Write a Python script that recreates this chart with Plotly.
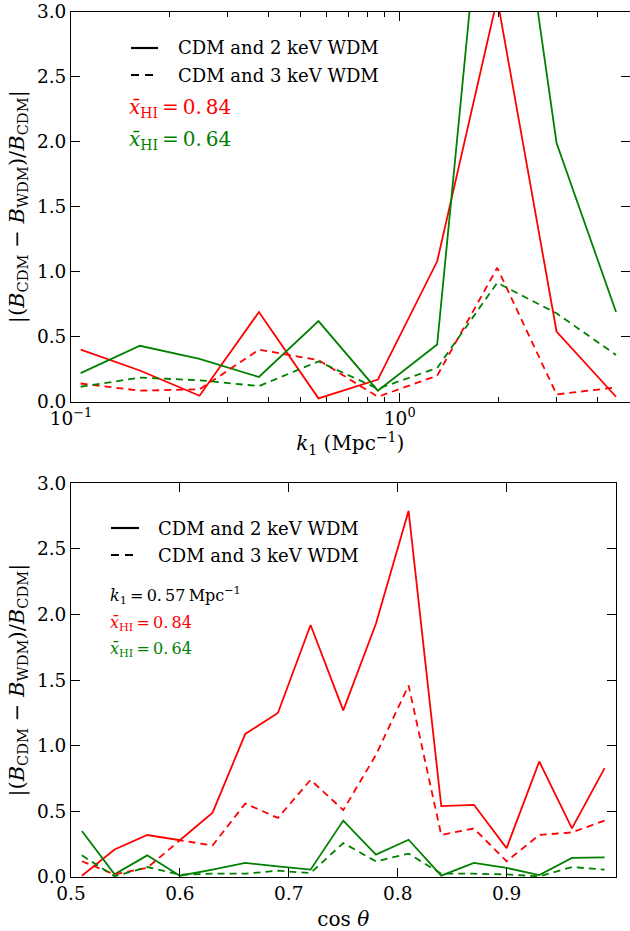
import plotly.graph_objects as go

W, H = 630, 931

# ---- top panel: bispectrum difference vs k1 ----
k1 = [0.107, 0.162, 0.246, 0.373, 0.566, 0.858, 1.30, 1.98, 3.00, 4.55]
top_red_2kev = [0.40, 0.24, 0.046, 0.69, 0.026, 0.17, 1.08, 3.10, 0.54, 0.038]
top_green_2kev = [0.22, 0.43, 0.33, 0.19, 0.62, 0.085, 0.44, 5.2, 1.99, 0.69]
top_red_3kev = [0.14, 0.085, 0.095, 0.40, 0.32, 0.038, 0.20, 1.03, 0.056, 0.11]
top_green_3kev = [0.115, 0.185, 0.165, 0.12, 0.31, 0.10, 0.26, 0.915, 0.68, 0.36]

# ---- bottom panel: bispectrum difference vs cos(theta) at k1 = 0.57 ----
cos_theta = [0.51, 0.54, 0.57, 0.60, 0.63, 0.66, 0.69, 0.72, 0.75,
             0.78, 0.81, 0.84, 0.87, 0.90, 0.93, 0.96, 0.99]
bot_red_2kev = [0.01, 0.21, 0.32, 0.28, 0.49, 1.09, 1.25, 1.92, 1.27,
                1.93, 2.79, 0.54, 0.55, 0.22, 0.88, 0.37, 0.83]
bot_red_3kev = [0.12, 0.02, 0.07, 0.28, 0.24, 0.56, 0.45, 0.74, 0.51,
                0.93, 1.46, 0.32, 0.37, 0.12, 0.32, 0.34, 0.43]
bot_green_2kev = [0.35, 0.02, 0.165, 0.01, 0.056, 0.107, 0.081, 0.056, 0.43,
                  0.17, 0.284, 0.01, 0.107, 0.069, 0.015, 0.145, 0.15]
bot_green_3kev = [0.165, 0.005, 0.076, 0.018, 0.025, 0.025, 0.048, 0.03, 0.259,
                  0.119, 0.178, 0.025, 0.025, 0.02, 0.005, 0.076, 0.056]

RED = "#ff0000"
GREEN = "#008000"
SERIF = "DejaVu Serif, serif"
LW = 1.8
DASH = "7px,5px"


def px_x(x):
    return x / W


def px_y(y):
    return 1 - y / H


fig = go.Figure()

series = [
    ("x", "y", k1, top_red_2kev, RED, "solid"),
    ("x", "y", k1, top_green_2kev, GREEN, "solid"),
    ("x", "y", k1, top_red_3kev, RED, DASH),
    ("x", "y", k1, top_green_3kev, GREEN, DASH),
    ("x2", "y2", cos_theta, bot_red_2kev, RED, "solid"),
    ("x2", "y2", cos_theta, bot_green_2kev, GREEN, "solid"),
    ("x2", "y2", cos_theta, bot_red_3kev, RED, DASH),
    ("x2", "y2", cos_theta, bot_green_3kev, GREEN, DASH),
]
for xa, ya, xs, ys, col, dash in series:
    fig.add_trace(go.Scatter(x=xs, y=ys, xaxis=xa, yaxis=ya, mode="lines",
                             line=dict(color=col, width=LW, dash=dash),
                             showlegend=False, hoverinfo="skip"))

tickfont = dict(family=SERIF, size=18.5, color="black")
titlefont = dict(family=SERIF, size=20, color="black")
ytitlefont = dict(family=SERIF, size=21, color="black")
common = dict(showline=True, linecolor="black", linewidth=1, mirror="ticks",
              ticks="inside", ticklen=9, tickwidth=1, tickcolor="black",
              showgrid=False, zeroline=False, tickfont=tickfont,
              automargin=False)

ylabel = ("|(<i>B</i><sub>CDM</sub> − <i>B</i><sub>WDM</sub>)/"
          "<i>B</i><sub>CDM</sub>|")
yticks = [0, 0.5, 1, 1.5, 2, 2.5, 3]
yticktext = ["0.0", "0.5", "1.0", "1.5", "2.0", "2.5", "3.0"]

fig.update_layout(
    width=W, height=H,
    margin=dict(l=0, r=0, t=0, b=0),
    paper_bgcolor="white", plot_bgcolor="white",
    xaxis=dict(type="log", range=[-1, 0.699],
               domain=[px_x(71), px_x(629.5)], anchor="y",
               tickvals=[0.1, 1], ticktext=["10<sup>−1</sup>", "10<sup>0</sup>"],
               minor=dict(ticks="inside", ticklen=5, tickcolor="black",
                          tickvals=[0.2, 0.3, 0.4, 0.5, 0.6, 0.7, 0.8, 0.9,
                                    2, 3, 4]),
               title=dict(text="<i>k</i><sub>1</sub> (Mpc<sup>−1</sup>)",
                          font=titlefont, standoff=8),
               **common),
    yaxis=dict(range=[0, 3], domain=[px_y(401.7), px_y(11.7)], anchor="x",
               tickvals=yticks, ticktext=yticktext,
               title=dict(text=ylabel, font=ytitlefont, standoff=6),
               **common),
    xaxis2=dict(range=[0.5, 1.0], domain=[px_x(71), px_x(615.5)], anchor="y2",
                tickvals=[0.5, 0.6, 0.7, 0.8, 0.9, 1.0],
                ticktext=["0.5", "0.6", "0.7", "0.8", "0.9", "1.0"],
                title=dict(text="cos <i>θ</i>", font=titlefont, standoff=8),
                **common),
    yaxis2=dict(range=[0, 3], domain=[px_y(877), px_y(483.3)], anchor="x2",
                tickvals=yticks, ticktext=yticktext,
                title=dict(text=ylabel, font=ytitlefont, standoff=6),
                **common),
)

# legend keys drawn as short line segments
shapes = []
for (x0, x1, y_solid, y_dash) in [(131, 158, 48, 75), (111, 139, 528, 555)]:
    shapes.append(dict(type="line", xref="paper", yref="paper",
                       x0=px_x(x0), x1=px_x(x1), y0=px_y(y_solid), y1=px_y(y_solid),
                       line=dict(color="black", width=2.2)))
    shapes.append(dict(type="line", xref="paper", yref="paper",
                       x0=px_x(x0), x1=px_x(x1), y0=px_y(y_dash), y1=px_y(y_dash),
                       line=dict(color="black", width=2.2, dash="8px,6px")))
fig.update_layout(shapes=shapes)


def label(x, y, text, size, color="black"):
    fig.add_annotation(xref="paper", yref="paper", x=px_x(x), y=px_y(y),
                       text=text, showarrow=False, xanchor="left",
                       yanchor="middle",
                       font=dict(family=SERIF, size=size, color=color))


xbar = "<i>x̄</i><sub>HI</sub>"
label(176, 48, "CDM and 2 keV WDM", 18)
label(176, 75, "CDM and 3 keV WDM", 18)
label(127, 108, xbar + "&#8201;=&#8201;0.&#8201;84", 20, RED)
label(127, 140, xbar + "&#8201;=&#8201;0.&#8201;64", 20, GREEN)

label(156, 528, "CDM and 2 keV WDM", 18)
label(156, 555, "CDM and 3 keV WDM", 18)
label(108, 595, "<i>k</i><sub>1</sub>&#8201;=&#8201;0.&#8201;57&#8201;Mpc<sup>−1</sup>", 16)
label(108, 623, xbar + "&#8201;=&#8201;0.&#8201;84", 16, RED)
label(108, 649, xbar + "&#8201;=&#8201;0.&#8201;64", 16, GREEN)

fig.write_html("out.html")
